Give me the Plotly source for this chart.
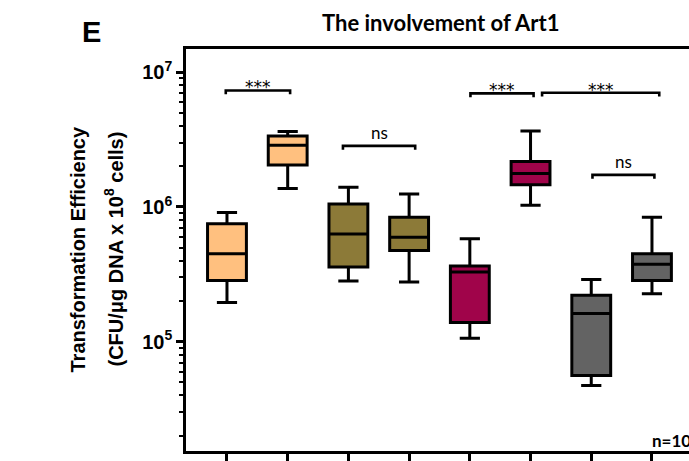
import numpy as np
import plotly.graph_objects as go

# ---------------- data ----------------
positions = [0, 1, 2, 3, 4, 5, 6, 7]
upper_whisker = [9.1e5, 3.63e6, 1.40e6, 1.25e6, 5.8e5, 3.66e6, 2.89e5, 8.4e5]
q3_values = [7.5e5, 3.37e6, 1.05e6, 8.4e5, 3.65e5, 2.18e6, 2.21e5, 4.49e5]
median_values = [4.5e5, 2.87e6, 6.3e5, 5.97e5, 3.29e5, 1.77e6, 1.62e5, 3.75e5]
q1_values = [2.85e5, 2.05e6, 3.58e5, 4.75e5, 1.39e5, 1.46e6, 5.6e4, 2.85e5]
lower_whisker = [1.95e5, 1.37e6, 2.82e5, 2.77e5, 1.06e5, 1.03e6, 4.73e4, 2.27e5]

# significance brackets: start position, end position, height, label
bracket_start = [-0.02, 1.91, 4.01, 5.19, 6.02]
bracket_end = [1.04, 3.10, 5.05, 7.12, 7.04]
bracket_height = [7.33e6, 2.84e6, 6.97e6, 7.05e6, 1.73e6]
bracket_label = ["***", "ns", "***", "***", "ns"]

y_tick_values = [1e5, 1e6, 1e7]
y_tick_text = ["10<sup>5</sup>", "10<sup>6</sup>", "10<sup>7</sup>"]

title_text = "The involvement of Art1"
ytitle_line1 = "Transformation Efficiency"
ytitle_line2 = "(CFU/\u03bcg DNA x 10<sup>8</sup> cells)"
panel_letter = "E"
n_text = "n=10"

# ---------------- style ----------------
colors = ["#FFC07F", "#FFC07F", "#8C7A38", "#8C7A38",
          "#A0044A", "#A0044A", "#636363", "#636363"]
W, H = 689, 461
ML, MR, MT, MB = 186, 0, 49, 7
PW, PH = W - ML - MR, H - MT - MB
ARIAL = "Liberation Sans, Arial, sans-serif"
CAL = "Lato, Open Sans, sans-serif"


def px_x(px):
    return (px - ML) / PW


def px_y(py):
    return 1 - (py - MT) / PH


fig = go.Figure()

for i, p in enumerate(positions):
    fig.add_trace(go.Box(
        x=[p], q1=[q1_values[i]], median=[median_values[i]], q3=[q3_values[i]],
        lowerfence=[lower_whisker[i]], upperfence=[upper_whisker[i]],
        width=0.64, whiskerwidth=0.52, fillcolor=colors[i],
        line=dict(color="black", width=3), boxpoints=False,
        showlegend=False, hoverinfo="skip",
    ))

drop = 10 ** -0.028
for x0, x1, h, lab in zip(bracket_start, bracket_end, bracket_height, bracket_label):
    fig.add_trace(go.Scatter(
        x=[x0, x0, x1, x1], y=[h * drop, h, h, h * drop], mode="lines",
        line=dict(color="black", width=2.6), showlegend=False, hoverinfo="skip",
    ))
    if lab == "***":
        fig.add_annotation(
            x=(x0 + x1) / 2, y=np.log10(h), xref="x", yref="y",
            text=lab, showarrow=False, xanchor="center", yanchor="middle",
            yshift=3, font=dict(family="DejaVu Sans", size=17, color="black"),
        )
    else:
        fig.add_annotation(
            x=(x0 + x1) / 2, y=np.log10(h), xref="x", yref="y",
            text=lab, showarrow=False, xanchor="center", yanchor="bottom",
            yshift=1, font=dict(family=CAL, size=17, color="black"),
        )

fig.add_annotation(x=px_x(78), y=px_y(251), xref="paper", yref="paper",
                   text="<b>" + ytitle_line1 + "</b>", textangle=-90, showarrow=False,
                   xanchor="center", yanchor="middle",
                   font=dict(family=ARIAL, size=20, color="black"))
fig.add_annotation(x=px_x(114), y=px_y(251), xref="paper", yref="paper",
                   text="<b>" + ytitle_line2 + "</b>", textangle=-90, showarrow=False,
                   xanchor="center", yanchor="middle",
                   font=dict(family=ARIAL, size=20, color="black"))
fig.add_annotation(x=px_x(91), y=px_y(32), xref="paper", yref="paper",
                   text="<b>" + panel_letter + "</b>", showarrow=False,
                   xanchor="center", yanchor="middle",
                   font=dict(family=ARIAL, size=29, color="black"))
fig.add_annotation(x=px_x(440), y=px_y(22), xref="paper", yref="paper",
                   text="<b>" + title_text + "</b>", showarrow=False,
                   xanchor="center", yanchor="middle",
                   font=dict(family=CAL, size=22, color="black"))
fig.add_annotation(x=px_x(650), y=px_y(443), xref="paper", yref="paper",
                   text="<b>" + n_text + "</b>", showarrow=False,
                   xanchor="left", yanchor="middle",
                   font=dict(family=CAL, size=17, color="black"))

fig.update_layout(
    width=W, height=H, margin=dict(l=ML, r=MR, t=MT, b=MB, pad=0),
    paper_bgcolor="white", plot_bgcolor="white",
    xaxis=dict(range=[-0.675, 7.61], tickvals=positions, showticklabels=False,
               ticks="outside", ticklen=10, tickwidth=2.5, tickcolor="black",
               showline=True, linewidth=2.5, linecolor="black", mirror=True,
               showgrid=False, zeroline=False),
    yaxis=dict(type="log", range=[4.188, 7.173], tickvals=y_tick_values,
               ticktext=["<b>" + t + "</b>" for t in y_tick_text],
               ticks="outside", ticklen=7, tickwidth=2.5, tickcolor="black",
               tickfont=dict(family=ARIAL, size=20, color="black"),
               minor=dict(ticks="outside", ticklen=4, tickwidth=2, dtick="D1",
                          tickcolor="black", showgrid=False),
               showline=True, linewidth=2.5, linecolor="black",
               showgrid=False, zeroline=False),
)

fig.write_html("out.html")
